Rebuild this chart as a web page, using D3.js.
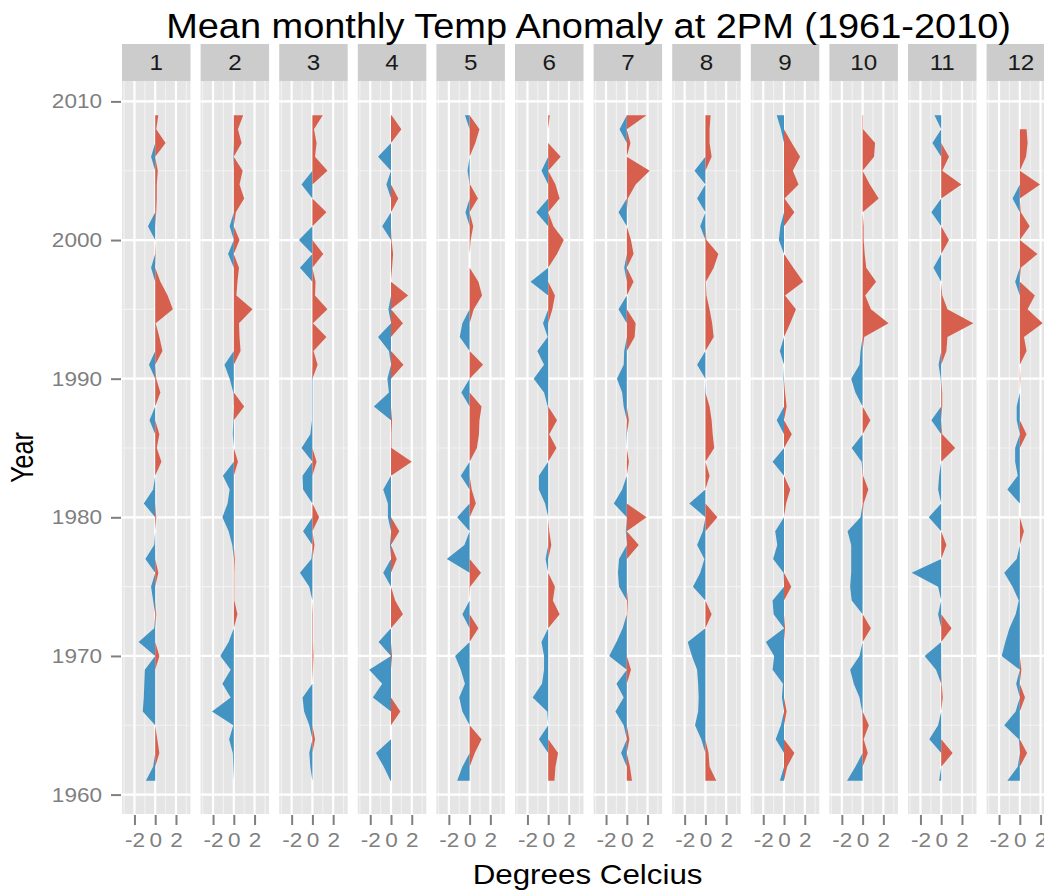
<!DOCTYPE html>
<html><head><meta charset="utf-8">
<script src="https://cdn.jsdelivr.net/npm/d3@7"></script>
<style>html,body{margin:0;padding:0;background:#fff;}</style>
</head><body>
<svg id="chart" width="1044" height="892"></svg>
<script>
// ---------- data ----------
const years = [1961,1962,1963,1964,1965,1966,1967,1968,1969,1970,
  1971,1972,1973,1974,1975,1976,1977,1978,1979,1980,
  1981,1982,1983,1984,1985,1986,1987,1988,1989,1990,
  1991,1992,1993,1994,1995,1996,1997,1998,1999,2000,
  2001,2002,2003,2004,2005,2006,2007,2008,2009];
const months = ["1","2","3","4","5","6","7","8","9","10","11","12"];
const m1 = [-0.9,-0.2,0.4,0.2,0.0,-1.2,-1.1,-1.05,-1.0,0.4, -1.6,-0.1,0.1,-0.2,-0.4,0.3,-0.95,-0.1,0.0,0.1, -1.1,-0.2,0.0,0.6,0.15,0.4,-0.55,0.0,0.5,0.1, -0.6,0.7,0.4,0.05,1.7,1.2,0.5,-0.4,0.05,0.0, -0.7,0.1,0.15,0.15,0.25,-0.4,1.0,0.1,0.3];
const m2 = [0.0,-0.05,-0.1,-0.45,-0.05,-2.1,-0.3,-1.1,-0.3,-1.3, -0.5,0.0,0.35,0.05,0.05,0.05,0.1,-0.15,-0.5,-1.1, -0.6,-0.4,-1.05,0.4,0.0,-0.1,-0.05,1.0,-0.05,-0.4, -0.9,0.65,0.55,0.5,1.8,0.25,0.35,0.5,-0.55,0.55, -0.4,0.2,1.0,0.55,0.85,-0.05,0.75,0.4,0.9];
const m3 = [0.0,-0.2,-0.3,0.25,-0.3,-0.8,-0.95,0.0,0.05,0.1, 0.05,0.05,0.05,0.0,-0.3,-1.2,-0.1,0.2,-0.9,0.65, 0.0,-0.9,-0.95,0.4,-1.05,-0.2,-0.05,-0.05,-0.05,-0.05, 0.5,0.1,1.35,0.05,1.45,0.25,0.3,-1.2,1.05,-1.3, 0.0,1.35,0.0,-1.05,1.45,0.25,0.4,0.15,1.0];
const m4 = [-0.05,-0.7,-1.45,0.0,0.0,0.9,-1.75,-0.85,-2.1,0.1, -1.2,0.0,1.15,0.4,0.0,-0.75,0.55,-0.1,0.8,-0.3, -0.3,-0.75,0.0,2.0,0.05,0.05,0.1,-1.65,-0.2,-0.35, 1.2,-0.2,-1.25,1.15,-0.25,1.65,0.0,0.1,0.2,0.05, -0.85,0.0,0.7,-0.45,0.0,-1.25,0.0,1.0,0.05];
const m5 = [-1.2,-0.7,0.5,1.15,0.0,-0.7,-1.0,-0.45,-0.85,-1.4, 0.0,0.85,-0.7,0.0,0.05,1.1,-2.2,-0.5,0.0,-1.2, 0.6,0.2,-0.85,0.0,0.7,0.9,0.95,1.15,-0.8,0.0, 1.3,0.0,-0.95,-0.7,0.4,1.2,0.85,0.0,0.0,0.1, 0.35,-0.4,0.8,0.05,-0.2,0.0,0.55,0.95,-0.45];
const m6 = [0.6,0.7,0.95,-0.9,0.0,-0.1,-1.5,-0.6,-0.4,-0.4, -0.65,0.0,1.1,0.45,0.65,0.0,-0.25,0.3,0.1,0.0, -0.3,-0.9,-0.9,0.0,0.8,0.1,0.85,-0.05,-0.4,-1.4, -0.4,-1.05,-0.05,-0.5,0.4,0.65,-1.7,0.0,0.85,1.5, 0.5,-1.15,1.1,0.7,-0.65,1.2,0.0,0.0,0.15];
const m7 = [0.5,0.3,-0.55,0.25,-0.3,-1.1,-0.3,-1.0,0.4,-1.7, -1.0,-0.4,0.05,0.1,-0.75,-0.85,-0.75,1.15,-0.1,1.9, -1.25,-0.45,0.0,0.2,0.0,-0.05,0.2,-0.3,-0.45,-0.95, -0.3,-0.25,0.75,0.85,-0.8,0.0,0.65,-0.25,0.65,0.4, 0.0,-0.8,0.1,0.85,2.2,0.0,0.35,-0.7,1.9];
const m8 = [1.05,0.4,0.3,-0.4,-1.0,-0.7,-0.65,-0.7,-0.8,-1.3, -1.7,0.0,0.6,0.0,-1.2,-0.5,-0.1,-0.8,-0.25,1.15, -1.55,0.0,0.4,0.0,0.85,0.7,0.6,0.4,-0.05,0.0, -0.8,0.0,0.8,0.65,0.4,0.1,0.05,0.8,1.25,0.1, -0.5,0.0,-0.8,0.0,-1.05,0.6,0.4,0.4,0.5];
const m9 = [-0.4,0.3,1.0,-0.8,-0.3,0.25,-0.2,-0.1,-1.1,-0.95, -1.75,0.1,-1.0,-1.1,0.7,-0.05,-1.05,-0.65,-0.85,0.0, 0.2,0.6,0.0,-1.1,0.0,0.75,-0.7,0.25,0.1,-0.05, 0.0,-0.4,0.0,0.6,1.15,0.1,1.85,0.9,0.0,-0.5, -0.35,1.0,0.05,1.4,0.85,1.55,0.75,-0.3,-0.7];
const m10 = [-1.5,-0.7,0.5,0.1,0.6,-0.05,-0.3,-0.85,-1.2,-0.3, 0.0,0.8,0.0,-1.05,-1.2,-1.1,-1.1,-1.1,-1.45,-0.2, 0.1,0.55,0.05,-0.1,-1.05,0.0,0.75,0.0,-0.7,-1.1, -0.3,-0.2,0.15,2.5,0.8,0.25,1.3,0.35,0.2,0.1, 0.1,0.0,1.55,0.7,0.0,1.1,1.2,0.05,0.05];
const m11 = [-0.2,0.0,1.1,-1.15,-0.3,0.0,0.15,0.05,-0.5,-1.6, 0.0,1.0,-0.3,0.0,-0.3,-2.85,0.0,0.5,0.0,-1.2, 0.0,-0.3,-0.2,0.0,1.35,0.1,-0.95,0.1,0.1,-0.05, -0.25,0.5,0.6,3.1,0.6,0.1,0.0,-0.75,0.0,0.75, 0.0,-0.95,0.0,1.95,0.1,0.75,-0.85,0.0,-0.65];
const m12 = [-1.2,-0.2,0.7,-0.1,-1.5,-0.4,0.5,-0.35,0.15,-1.75, -1.4,-1.0,-0.4,-0.1,-0.7,-1.5,-0.3,0.0,0.4,0.0, 0.0,-1.2,-0.2,-0.45,-0.45,0.65,-0.3,-0.3,0.0,0.05, 0.0,0.65,0.4,2.2,0.75,1.45,-0.45,0.1,1.7,0.0, 0.95,0.1,-0.7,1.95,0.0,0.6,0.75,0.65,null];
const series = [m1,m2,m3,m4,m5,m6,m7,m8,m9,m10,m11,m12];
const xTicks = [-2,0,2];
const xMinor = [-3,-1,1,3];
const yTicks = [1960,1970,1980,1990,2000,2010];
const yMinor = [1965,1975,1985,1995,2005];
const titleText = "Mean monthly Temp Anomaly at 2PM (1961-2010)";
const xTitle = "Degrees Celcius";
const yTitle = "Year";

// ---------- layout ----------
const FONT = "'Liberation Sans', Arial, Helvetica, sans-serif";
const SX = 1.1;           // horizontal stretch of the original render
const panelLeft0 = 122, panelPitch = 78.6, panelW = 68.5;
const panelTop = 81, panelBottom = 814;
const stripTop = 44, stripH = 37;
const RED = "#D6604D", BLUE = "#4393C3";
const TICK_FS = 20.5;

const svg = d3.select("#chart");
svg.append("rect").attr("width",1044).attr("height",892).attr("fill","#fff");

const y = d3.scaleLinear().domain([1958.6, 2011.4]).range([panelBottom, panelTop + 1]);

function stretchText(sel) {
  sel.each(function(){
    const t = d3.select(this);
    const x = +t.attr("x") || 0;
    t.attr("x", x / SX).attr("transform", `scale(${SX},1)`);
  });
}

months.forEach((m, i) => {
  const left = panelLeft0 + i * panelPitch;
  const x = d3.scaleLinear().domain([-3.2, 3.4]).range([left, left + panelW]);
  const g = svg.append("g");

  // panel background
  g.append("rect").attr("x", left).attr("y", panelTop).attr("width", panelW)
    .attr("height", panelBottom - panelTop).attr("fill", "#E5E5E5");
  // minor grid
  g.selectAll(".vminor").data(xMinor).join("line")
    .attr("x1", d => x(d)).attr("x2", d => x(d)).attr("y1", panelTop).attr("y2", panelBottom)
    .attr("stroke", "#F2F2F2").attr("stroke-width", 1.1);
  g.selectAll(".hminor").data(yMinor).join("line")
    .attr("x1", left).attr("x2", left + panelW).attr("y1", d => y(d)).attr("y2", d => y(d))
    .attr("stroke", "#F2F2F2").attr("stroke-width", 1.1);
  // major grid
  g.selectAll(".vmajor").data(xTicks).join("line")
    .attr("x1", d => x(d)).attr("x2", d => x(d)).attr("y1", panelTop).attr("y2", panelBottom)
    .attr("stroke", "#FFFFFF").attr("stroke-width", 2.2);
  g.selectAll(".hmajor").data(yTicks).join("line")
    .attr("x1", left).attr("x2", left + panelW).attr("y1", d => y(d)).attr("y2", d => y(d))
    .attr("stroke", "#FFFFFF").attr("stroke-width", 2.2);

  // data areas (positive part red, negative part blue)
  const data = years.map((yr, k) => ({yr, v: series[i][k]})).filter(d => d.v !== null);
  const pos = d3.area().y(d => y(d.yr)).x0(x(0)).x1(d => x(Math.max(0, d.v)));
  const neg = d3.area().y(d => y(d.yr)).x0(x(0)).x1(d => x(Math.min(0, d.v)));
  g.append("path").datum(data).attr("d", neg).attr("fill", BLUE);
  g.append("path").datum(data).attr("d", pos).attr("fill", RED);

  // strip
  g.append("rect").attr("x", left).attr("y", stripTop).attr("width", panelW).attr("height", stripH)
    .attr("fill", "#CCCCCC");
  g.append("text").attr("transform", `translate(${left + panelW/2},70) scale(${SX},1)`)
    .attr("text-anchor", "middle").attr("font-family", FONT).attr("font-size", 22)
    .attr("fill", "#1A1A1A").text(m);

  // x axis
  const xAxis = d3.axisBottom(x).tickValues(xTicks).tickSize(10).tickPadding(7)
    .tickFormat(d => String(d));
  const gx = svg.append("g").attr("transform", `translate(0,${panelBottom + 1})`).call(xAxis);
  gx.select(".domain").remove();
  gx.selectAll("line").attr("stroke", "#7F7F7F").attr("stroke-width", 2);
  gx.selectAll("text").attr("fill", "#7F7F7F").attr("font-family", FONT).attr("font-size", TICK_FS);
  stretchText(gx.selectAll("text"));
});

// y axis
const yAxis = d3.axisLeft(y).tickValues(yTicks).tickSize(10).tickPadding(9).tickFormat(d => String(d));
const gy = svg.append("g").attr("transform", `translate(${panelLeft0 - 1},0)`).call(yAxis);
gy.select(".domain").remove();
gy.selectAll("line").attr("stroke", "#7F7F7F").attr("stroke-width", 2);
gy.selectAll("text").attr("fill", "#7F7F7F").attr("font-family", FONT).attr("font-size", TICK_FS);
stretchText(gy.selectAll("text"));

const cx = panelLeft0 + (11 * panelPitch + panelW) / 2;
// title
svg.append("text").attr("transform", `translate(${cx},38) scale(${SX},1)`)
  .attr("text-anchor", "middle").attr("font-family", FONT).attr("font-size", 34.5)
  .attr("fill", "#000").text(titleText);
// axis titles
svg.append("text").attr("transform", `translate(${cx - 1},884) scale(${SX},1)`)
  .attr("text-anchor", "middle").attr("font-family", FONT).attr("font-size", 28.5)
  .attr("fill", "#000").text(xTitle);
svg.append("text").attr("transform", `translate(33,${(panelTop + panelBottom)/2 + 10}) scale(1.27,1) rotate(-90)`)
  .attr("text-anchor", "middle").attr("font-family", FONT).attr("font-size", 25)
  .attr("fill", "#000").text(yTitle);
</script>
</body></html>
